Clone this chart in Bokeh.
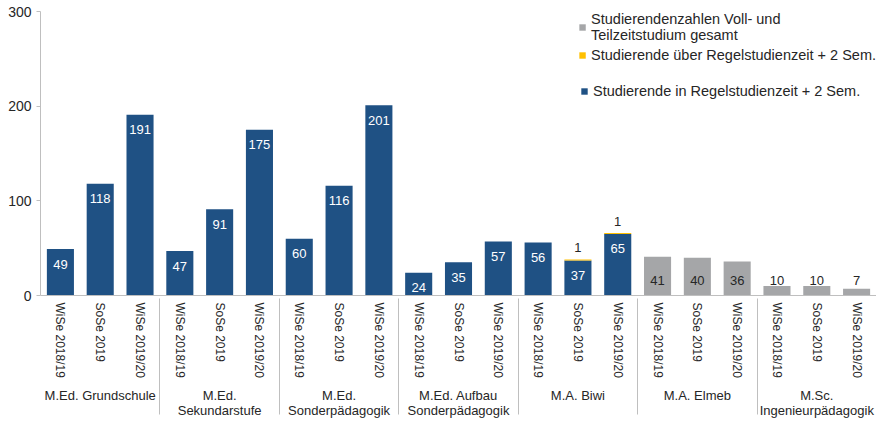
from bokeh.plotting import figure
from bokeh.models import (FactorRange, ColumnDataSource, LabelSet, Legend,
                          LegendItem, Range1d, FixedTicker)
from bokeh.core.properties import value
from bokeh.embed import file_html
from bokeh.resources import INLINE

programs = ["M.Ed. Grundschule", "M.Ed.\nSekundarstufe", "M.Ed.\nSonderpädagogik",
            "M.Ed. Aufbau\nSonderpädagogik", "M.A. Biwi", "M.A. Elmeb",
            "M.Sc.\nIngenieurpädagogik"]
semesters = ["WiSe 2018/19", "SoSe 2019", "WiSe 2019/20"]

in_regel = [49, 118, 191, 47, 91, 175, 60, 116, 201, 24, 35, 57, 56, 37, 65, 0, 0, 0, 0, 0, 0]
ueber_regel = [0, 0, 0, 0, 0, 0, 0, 0, 0, 0, 0, 0, 0, 1, 1, 0, 0, 0, 0, 0, 0]
gesamt = [0, 0, 0, 0, 0, 0, 0, 0, 0, 0, 0, 0, 0, 0, 0, 41, 40, 36, 10, 10, 7]
y_ticks = [0, 100, 200, 300]

legend_labels = ["Studierendenzahlen Voll- und\nTeilzeitstudium gesamt",
                 "Studierende über Regelstudienzeit + 2 Sem.",
                 "Studierende in Regelstudienzeit + 2 Sem."]

BLUE = "#1F5184"
YELLOW = "#FFC000"
GRAY = "#A5A6A8"
TXT = "#262626"
AXC = "#BFBFBF"
FONT = "Liberation Sans"

W, H = 876, 420
LEFT, RIGHT, TOP = 40, 0, 11

factors = [(p, s) for p in programs for s in semesters]
src = ColumnDataSource(dict(x=factors, in_regel=in_regel, ueber=ueber_regel, gesamt=gesamt))

p = figure(width=W, height=H, output_backend="svg", toolbar_location=None,
           x_range=FactorRange(*factors, group_padding=0, factor_padding=0, range_padding=0),
           y_range=Range1d(0, 300),
           min_border_left=LEFT, min_border_right=RIGHT, min_border_top=TOP, min_border_bottom=0)
p.outline_line_color = None
p.xgrid.visible = False
p.ygrid.visible = False

rs = p.vbar_stack(["in_regel", "ueber", "gesamt"], x="x", width=0.68, source=src,
                  color=[BLUE, YELLOW, GRAY], line_color=None)

# value labels
bl = [(f, v) for f, v in zip(factors, in_regel) if v > 0]
blue_src = ColumnDataSource(dict(x=[b[0] for b in bl], y=[b[1] for b in bl],
                                 t=[str(b[1]) for b in bl]))
yl = [(f, a + b, b) for f, a, b in zip(factors, in_regel, ueber_regel) if b > 0]
yel_src = ColumnDataSource(dict(x=[r[0] for r in yl], y=[r[1] for r in yl],
                                t=[str(r[2]) for r in yl]))
gl = [(f, v) for f, v in zip(factors, gesamt) if v > 0]
gray_src = ColumnDataSource(dict(x=[g[0] for g in gl], y=[0] * len(gl),
                                 t=[str(g[1]) for g in gl]))

common = dict(x="x", y="y", text="t", text_align="center", text_baseline="middle",
              text_font=value(FONT), text_font_size=value("13px"))
p.add_layout(LabelSet(source=blue_src, y_offset=-15, text_color="white", **common))
p.add_layout(LabelSet(source=yel_src, y_offset=12, text_color=TXT, **common))
p.add_layout(LabelSet(source=gray_src, y_offset=15, text_color=TXT, **common))

# axes
xa = p.xaxis[0]
xa.major_label_orientation = "vertical"
xa.major_label_text_font = FONT
xa.major_label_text_font_size = "12px"
xa.major_label_text_color = TXT
xa.major_label_standoff = 7
xa.group_text_font = FONT
xa.group_text_font_size = "13px"
xa.group_text_font_style = "normal"
xa.group_text_color = TXT
xa.group_text_line_height = 1.0
xa.group_label_orientation = "horizontal"
xa.major_tick_line_color = None
xa.major_tick_out = 0
xa.axis_line_color = AXC
xa.separator_line_color = AXC
xa.separator_line_width = 1

ya = p.yaxis[0]
ya.ticker = FixedTicker(ticks=y_ticks)
ya.minor_tick_line_color = None
ya.major_tick_in = 0
ya.major_tick_out = 4
ya.major_tick_line_color = AXC
ya.axis_line_color = AXC
ya.major_label_text_font = FONT
ya.major_label_text_font_size = "14px"
ya.major_label_text_color = TXT

leg_style = dict(margin=0, padding=0, spacing=0, glyph_width=8, glyph_height=8,
                 label_standoff=5, label_height=24, label_text_font=FONT,
                 label_text_font_size="14.5px", label_text_color=TXT,
                 label_text_line_height=1.05, border_line_color=None,
                 background_fill_alpha=0)
legend_a = Legend(items=[LegendItem(label=legend_labels[0], renderers=[rs[2]]),
                         LegendItem(label=legend_labels[1], renderers=[rs[1]])],
                  location="top_right", **leg_style)
frame_w = W - LEFT - RIGHT
frame_h = 284
legend_b = Legend(items=[LegendItem(label=legend_labels[2], renderers=[rs[0]])],
                  location=(frame_w - 296, frame_h - 92), **leg_style)
p.add_layout(legend_a)
p.add_layout(legend_b)

open("out.html", "w").write(file_html(p, INLINE))
